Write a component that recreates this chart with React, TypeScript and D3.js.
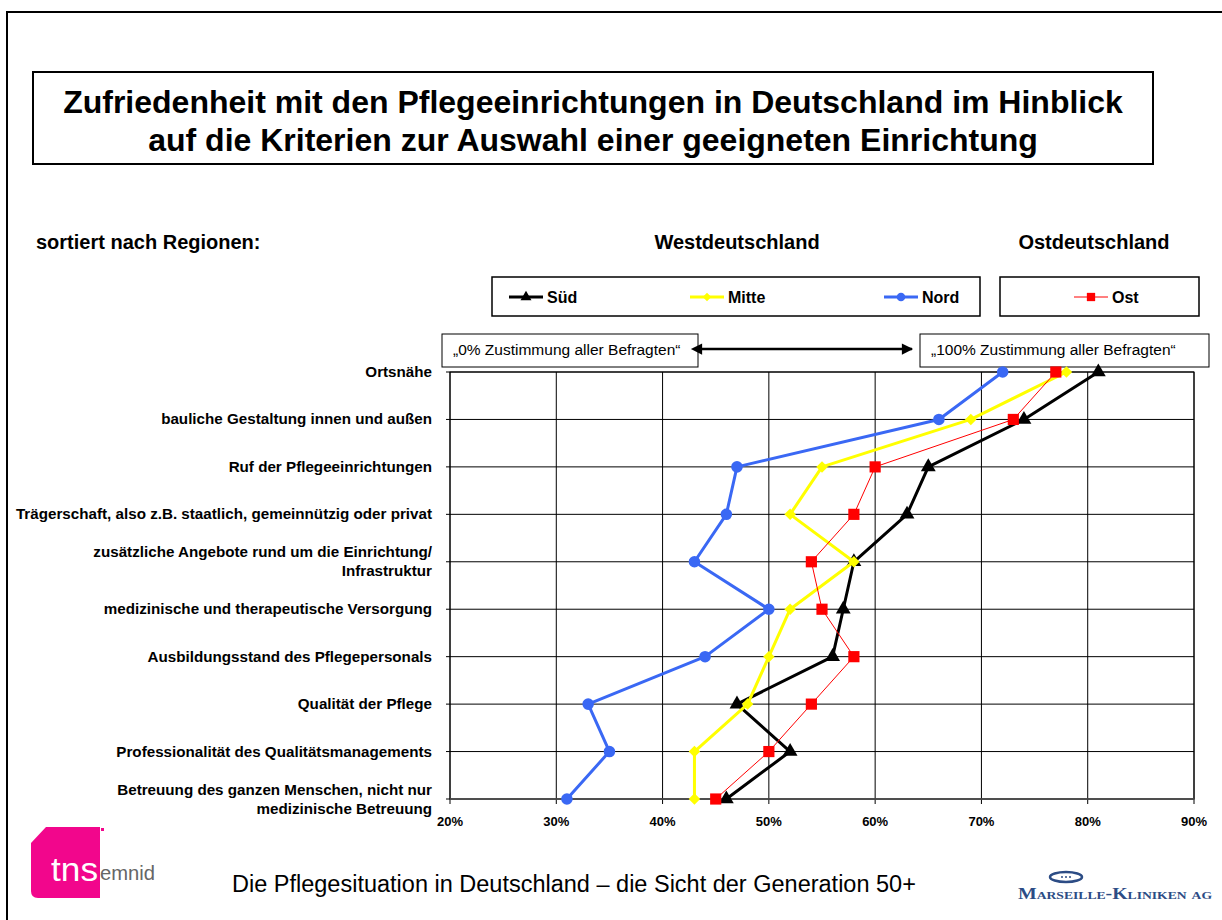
import * as d3 from "d3";
import { useEffect, useRef } from "react";

const categories = [
    "Ortsnähe",
    "bauliche Gestaltung innen und außen",
    "Ruf der Pflegeeinrichtungen",
    "Trägerschaft, also z.B. staatlich, gemeinnützig oder privat",
    "zusätzliche Angebote rund um die Einrichtung/|Infrastruktur",
    "medizinische und therapeutische Versorgung",
    "Ausbildungsstand des Pflegepersonals",
    "Qualität der Pflege",
    "Professionalität des Qualitätsmanagements",
    "Betreuung des ganzen Menschen, nicht nur|medizinische Betreuung",
];

const sued = [81, 74, 65, 63, 58, 57, 56, 47, 52, 46];
const mitte = [78, 69, 55, 52, 58, 52, 50, 48, 43, 43];
const nord = [72, 66, 47, 46, 43, 50, 44, 33, 35, 31];
const ost = [77, 73, 60, 58, 54, 55, 58, 54, 50, 45];

const xTicks = [20, 30, 40, 50, 60, 70, 80, 90];

const seriesNames = ["Süd", "Mitte", "Nord", "Ost"];

const FONT = "Arial, 'Liberation Sans', Helvetica, sans-serif";

function App() {
    const ref = useRef(null);

    useEffect(() => {
        const svg = d3.select(ref.current);
        svg.selectAll("*").remove();

        const width = 1222;
        const height = 920;
        svg.attr("width", width).attr("height", height);

        svg.append("rect").attr("width", width).attr("height", height).attr("fill", "#fff");

        // outer frame
        svg.append("rect")
            .attr("x", 7).attr("y", 12)
            .attr("width", 1240).attr("height", 940)
            .attr("fill", "none").attr("stroke", "#000").attr("stroke-width", 2);

        // title box
        svg.append("rect")
            .attr("x", 33).attr("y", 72)
            .attr("width", 1120).attr("height", 92)
            .attr("fill", "#fff").attr("stroke", "#000").attr("stroke-width", 2);

        const titleLines = [
            "Zufriedenheit mit den Pflegeeinrichtungen in Deutschland im Hinblick",
            "auf die Kriterien zur Auswahl einer geeigneten Einrichtung",
        ];
        svg.selectAll(".title")
            .data(titleLines)
            .enter()
            .append("text")
            .attr("class", "title")
            .attr("x", 593)
            .attr("y", (d, i) => 113 + i * 38)
            .attr("text-anchor", "middle")
            .style("font-family", FONT)
            .style("font-weight", "bold")
            .style("font-size", "32px")
            .text(d => d);

        // headings
        const heading = (x, txt, anchor) =>
            svg.append("text")
                .attr("x", x).attr("y", 249)
                .attr("text-anchor", anchor)
                .style("font-family", FONT)
                .style("font-weight", "bold")
                .style("font-size", "20px")
                .text(txt);
        heading(36, "sortiert nach Regionen:", "start");
        heading(737, "Westdeutschland", "middle");
        heading(1094, "Ostdeutschland", "middle");

        // scales
        const margin = { left: 450, right: 1194, top: 372, bottom: 799 };
        const x = d3.scaleLinear().domain([20, 90]).range([margin.left, margin.right]);
        const y = d3.scalePoint().domain(categories).range([margin.top, margin.bottom]);

        const series = [
            { name: "Süd", values: sued, color: "#000000", width: 3, symbol: d3.symbolTriangle, size: 95, rotate: 0 },
            { name: "Mitte", values: mitte, color: "#FFFF00", width: 3, symbol: d3.symbolSquare, size: 66, rotate: 45 },
            { name: "Nord", values: nord, color: "#3A68F4", width: 3, symbol: d3.symbolCircle, size: 105, rotate: 0 },
            { name: "Ost", values: ost, color: "#FF0000", width: 1, symbol: d3.symbolSquare, size: 125, rotate: 0 },
        ];

        // legend boxes
        svg.append("rect").attr("x", 492).attr("y", 277).attr("width", 488).attr("height", 39)
            .attr("fill", "#fff").attr("stroke", "#000").attr("stroke-width", 1.5);
        svg.append("rect").attr("x", 1000).attr("y", 277).attr("width", 199).attr("height", 39)
            .attr("fill", "#fff").attr("stroke", "#000").attr("stroke-width", 1.5);

        const legendX = [509, 690, 884, 1074];
        series.forEach((s, i) => {
            const lx = legendX[i];
            const lg = svg.append("g");
            lg.append("line")
                .attr("x1", lx).attr("x2", lx + 34)
                .attr("y1", 297).attr("y2", 297)
                .attr("stroke", s.color).attr("stroke-width", s.width);
            lg.append("path")
                .attr("d", d3.symbol(s.symbol, s.size * 0.55)())
                .attr("transform", `translate(${lx + 17},297) rotate(${s.rotate})`)
                .attr("fill", s.color);
            lg.append("text")
                .attr("x", lx + 38).attr("y", 303)
                .style("font-family", FONT)
                .style("font-weight", "bold")
                .style("font-size", "16px")
                .text(seriesNames[i]);
        });

        // annotation boxes
        const note = (bx, bw, txt) => {
            svg.append("rect").attr("x", bx).attr("y", 334).attr("width", bw).attr("height", 33)
                .attr("fill", "#fff").attr("stroke", "#000").attr("stroke-width", 1);
            svg.append("text")
                .attr("x", bx + 11).attr("y", 355)
                .style("font-family", FONT)
                .style("font-size", "15.5px")
                .text(txt);
        };
        note(442, 256, "„0% Zustimmung aller Befragten“");
        note(920, 289, "„100% Zustimmung aller Befragten“");

        const defs = svg.append("defs");
        ["start", "end"].forEach(k => {
            defs.append("marker")
                .attr("id", `arr-${k}`)
                .attr("viewBox", "0 0 10 10")
                .attr("refX", k === "end" ? 9 : 1).attr("refY", 5)
                .attr("markerWidth", 5.5).attr("markerHeight", 4.5)
                .attr("markerUnits", "strokeWidth")
                .attr("orient", "auto-start-reverse")
                .append("path")
                .attr("d", "M0,0 L10,5 L0,10 Z")
                .attr("fill", "#000");
        });
        svg.append("line")
            .attr("x1", 701).attr("x2", 912)
            .attr("y1", 349).attr("y2", 349)
            .attr("stroke", "#000").attr("stroke-width", 2.5)
            .attr("marker-start", "url(#arr-start)")
            .attr("marker-end", "url(#arr-end)");

        // plot area
        const g = svg.append("g");
        g.append("rect")
            .attr("x", margin.left).attr("y", margin.top)
            .attr("width", margin.right - margin.left).attr("height", margin.bottom - margin.top)
            .attr("fill", "#fff").attr("stroke", "#000").attr("stroke-width", 1);

        g.selectAll(".vgrid")
            .data(xTicks)
            .enter()
            .append("line")
            .attr("x1", d => x(d)).attr("x2", d => x(d))
            .attr("y1", margin.top).attr("y2", margin.bottom + 5)
            .attr("stroke", "#000").attr("stroke-width", 1);

        g.selectAll(".hgrid")
            .data(categories)
            .enter()
            .append("line")
            .attr("x1", margin.left - 4).attr("x2", margin.right)
            .attr("y1", d => y(d)).attr("y2", d => y(d))
            .attr("stroke", "#000").attr("stroke-width", 1);

        g.append("line")
            .attr("x1", margin.left).attr("x2", margin.right)
            .attr("y1", margin.bottom).attr("y2", margin.bottom)
            .attr("stroke", "#555").attr("stroke-width", 1.5);

        g.selectAll(".xlabel")
            .data(xTicks)
            .enter()
            .append("text")
            .attr("x", d => x(d)).attr("y", 826)
            .attr("text-anchor", "middle")
            .style("font-family", FONT)
            .style("font-weight", "bold")
            .style("font-size", "13px")
            .text(d => `${d}%`);

        // category labels
        categories.forEach(c => {
            const lines = c.split("|");
            const t = g.append("text")
                .attr("text-anchor", "end")
                .style("font-family", FONT)
                .style("font-weight", "bold")
                .style("font-size", "15.2px");
            lines.forEach((ln, i) => {
                t.append("tspan")
                    .attr("x", 432)
                    .attr("y", y(c) + 5 + (i - (lines.length - 1) / 2) * 19)
                    .text(ln);
            });
        });

        // series
        const line = d3.line().x(d => x(d.v)).y(d => y(d.c));
        series.forEach(s => {
            const pts = s.values.map((v, i) => ({ v, c: categories[i] }));
            g.append("path")
                .datum(pts)
                .attr("d", line)
                .attr("fill", "none")
                .attr("stroke", s.color)
                .attr("stroke-width", s.width)
                .attr("stroke-linejoin", "round");
            g.selectAll(null)
                .data(pts)
                .enter()
                .append("path")
                .attr("d", d3.symbol(s.symbol, s.size)())
                .attr("transform", d => `translate(${x(d.v)},${y(d.c)}) rotate(${s.rotate})`)
                .attr("fill", s.color);
        });

        // footer
        svg.append("text")
            .attr("x", 232).attr("y", 892)
            .style("font-family", FONT)
            .style("font-size", "23.5px")
            .text("Die Pflegesituation in Deutschland – die Sicht der Generation 50+");

        // tns emnid logo
        svg.append("path")
            .attr("d", "M46,827 L100,827 L100,898 L38,898 Q31,898 31,891 L31,843 Z")
            .attr("fill", "#F2068C");
        svg.append("rect").attr("x", 101).attr("y", 828).attr("width", 3).attr("height", 3).attr("fill", "#F2068C");
        svg.append("text")
            .attr("x", 51).attr("y", 881)
            .style("font-family", FONT)
            .style("font-size", "34px")
            .attr("fill", "#fff")
            .attr("textLength", 47)
            .attr("lengthAdjust", "spacingAndGlyphs")
            .text("tns");
        svg.append("text")
            .attr("x", 100).attr("y", 880)
            .style("font-family", FONT)
            .style("font-size", "21px")
            .attr("fill", "#666")
            .attr("textLength", 55)
            .attr("lengthAdjust", "spacingAndGlyphs")
            .text("emnid");

        // Marseille-Kliniken logo
        const mk = svg.append("g");
        mk.append("ellipse")
            .attr("cx", 1066).attr("cy", 877).attr("rx", 16).attr("ry", 5)
            .attr("fill", "#fff").attr("stroke", "#2C4C85").attr("stroke-width", 2.5);
        [-4, 0, 4].forEach(dx => {
            mk.append("circle").attr("cx", 1066 + dx).attr("cy", 877).attr("r", 1).attr("fill", "#2C4C85");
        });
        mk.append("text")
            .attr("x", 1115).attr("y", 899)
            .attr("text-anchor", "middle")
            .style("font-family", "'Liberation Serif', 'DejaVu Serif', serif")
            .style("font-weight", "bold")
            .style("font-size", "16px")
            .style("font-variant", "small-caps")
            .attr("fill", "#2C4C85")
            .attr("textLength", 194)
            .attr("lengthAdjust", "spacingAndGlyphs")
            .text("Marseille-Kliniken ag");
    }, []);

    return (
        <div style={{ position: "absolute", left: 0, top: 0 }}>
            <svg ref={ref} style={{ display: "block" }} />
        </div>
    );
}

export default App;
